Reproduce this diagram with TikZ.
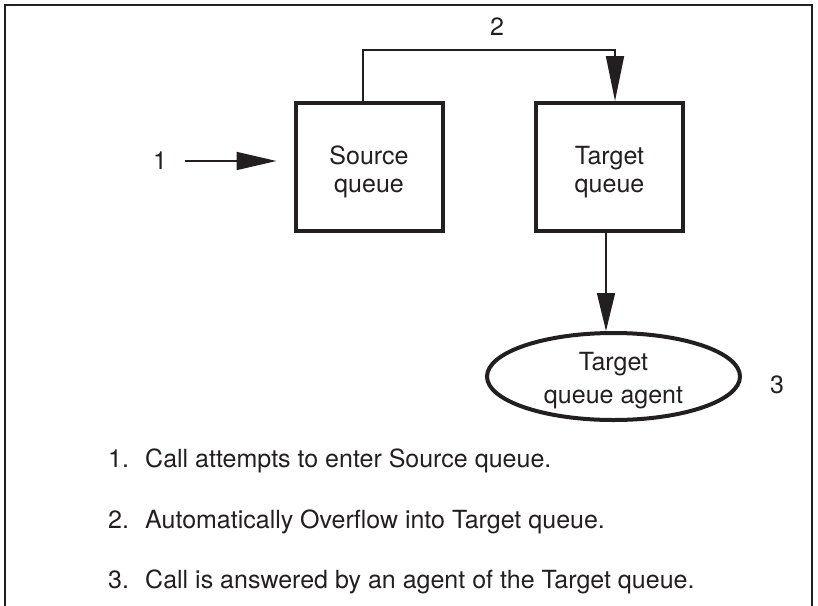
\documentclass[tikz,border=0pt]{standalone}
\usepackage{fontspec}
\setmainfont{TeX Gyre Heros}
\usetikzlibrary{arrows.meta,shapes.geometric}
\definecolor{ink}{HTML}{231F20}
% two centred lines, moved down by #1 from the node centre
\newcommand\twolines[3]{\raisebox{\dimexpr-6.25pt-#1\relax}[0pt][0pt]{\begin{tabular}{@{}c@{}}#2\\#3\end{tabular}}}
\begin{document}
\begin{tikzpicture}[x=1pt,y=-1pt,
  every node/.style={text=ink,font=\fontsize{25}{28}\selectfont},
  qbox/.style={draw=ink,line width=4pt,minimum width=147pt,minimum height=128pt,inner sep=0pt},
  agentshape/.style={ellipse,draw=ink,line width=4pt,minimum width=253pt,minimum height=87pt,inner sep=0pt,font=\fontsize{25}{33}\selectfont},
  conn/.style={draw=ink,line width=1.7pt},
  lbl/.style={inner sep=0pt},
  item/.style={anchor=base west,inner sep=0pt}]
\useasboundingbox (0,0) rectangle (818,605);
% frame (open at the bottom)
\draw[ink,line width=2.8pt] (5,606) -- (5,5) -- (812,5) -- (812,606);
% queues
\node[qbox] (src) at (369,167) {\twolines{5.4pt}{Source}{queue}};
\node[qbox] (tgt) at (609.5,167) {\twolines{5.4pt}{Target}{queue}};
\node[agentshape] (agent) at (613.5,376.5) {\twolines{3.4pt}{Target}{queue agent}};
% labels
\node[lbl] (l1) at (160,161) {1};
\node[lbl] (l2) at (497,27) {2};
\node[lbl] (l3) at (777,385) {3};
% connectors
\coordinate (in1) at (185,161);
\draw[conn,-{Triangle[length=40pt,width=18pt]},shorten >=17pt] (in1) -- (src.west |- in1);
\coordinate (bendL) at (363,50);
\coordinate (bendR) at (615,50);
\draw[conn,-{Triangle[length=45pt,width=18pt]}] (src.north -| bendL) -- (bendL) -- (bendR) -- (tgt.north -| bendR);
\coordinate (dn) at (606,0);
\draw[conn,-{Triangle[length=38pt,width=18pt]}] (tgt.south -| dn) -- (agent.north -| dn);
% notes
\node[item] (n1) at (108,467) {\makebox[37pt][l]{1.}Call attempts to enter Source queue.};
\node[item] (n2) at (108,528) {\makebox[37pt][l]{2.}Automatically Overflow into Target queue.};
\node[item] (n3) at (108,588) {\makebox[37pt][l]{3.}Call is answered by an agent of the Target queue.};
\end{tikzpicture}
\end{document}
